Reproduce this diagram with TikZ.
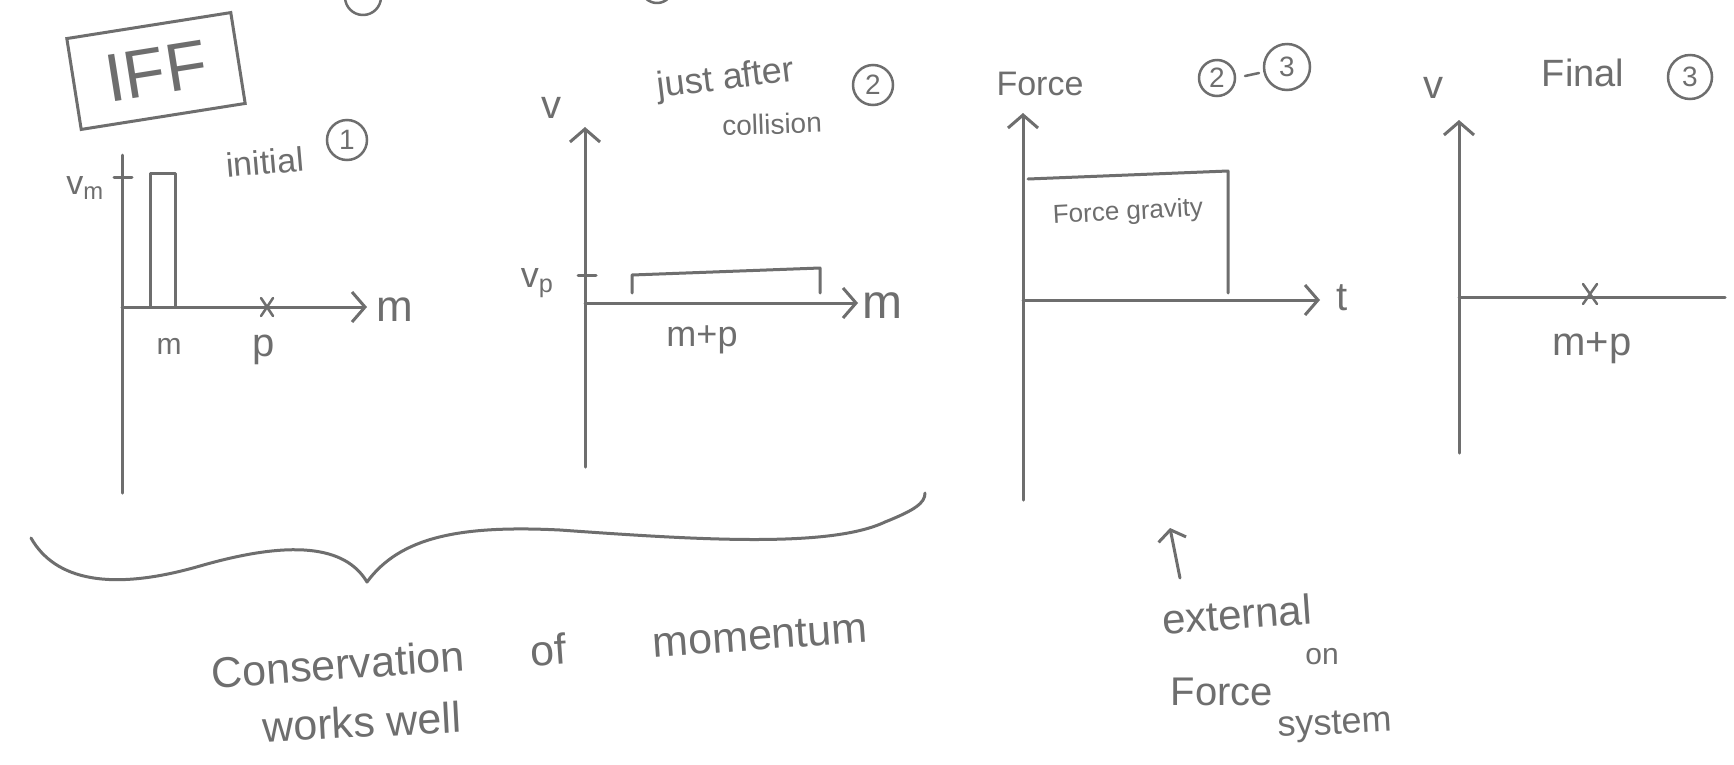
\documentclass[tikz,border=0pt]{standalone}
\usepackage{fontspec}
\setmainfont{Liberation Sans}
\usetikzlibrary{arrows.meta}
\definecolor{ink}{HTML}{6E6E6E}
\begin{document}
\begin{tikzpicture}[x=1pt,y=-1pt,
  stroke/.style={draw=ink, line width=3pt, line cap=round, line join=round},
  arr/.style={stroke, -{Straight Barb[length=13pt,width=30pt]}},
  lbl/.style={text=ink, inner sep=0pt, font=\fontsize{#1}{#1}\selectfont},
  num/.style={circle, draw=ink, line width=2.5pt, text=ink, minimum size=#1, inner sep=0pt, font=\fontsize{28}{28}\selectfont},
  crossmark/.style={stroke, line width=2.5pt},
]
\useasboundingbox (0,0) rectangle (1734,764);
\fill[white] (0,0) rectangle (1734,764);
\begin{scope}
\clip (0,0) rectangle (1734,764);
\draw[stroke, line width=2.5pt] (363,-3) circle[radius=18pt];
\draw[stroke, line width=2.5pt] (657,-13) circle[radius=16pt];
\end{scope}

% IFF box
\node[draw=ink, line width=3pt, rotate=9, minimum width=166pt, minimum height=92pt, text=ink,
      font=\fontsize{68}{68}\selectfont] (iff) at (156,71) {IFF};

% ---------- graph 1: initial
\coordinate (o1) at (122,307);
\coordinate (t1) at (122,155);
\coordinate (b1) at (122,493);
\coordinate (r1) at (367,307);
\draw[stroke] (t1) -- (b1);
\draw[arr] (o1) -- (r1);
\draw[stroke] (114,177) -- (132,177);
\draw[stroke] (150,307) -- (150,173) -- (175,173) -- (175,307);
\draw[crossmark] (261,298) -- (273,316) (273,298) -- (261,316);
\node[lbl=34, anchor=east] (vm) at (104,188) {v\textsubscript{m}};
\node[lbl=44, anchor=west] (m1) at (376,310) {m};
\node[lbl=30] (m1b) at (169,346) {m};
\node[lbl=40] (p1) at (264,350) {p};
\node[lbl=34, rotate=5] (init) at (265,162) {initial};
\node[num=40pt] (c1) at (347,140) {1};

% ---------- graph 2: just after collision
\coordinate (o2) at (585,303);
\coordinate (t2) at (585,127);
\coordinate (b2) at (585,467);
\coordinate (r2) at (858,303);
\draw[stroke] (b2) -- (o2);
\draw[arr] (o2) -- (t2);
\draw[arr] (o2) -- (r2);
\draw[stroke] (578,275) -- (596,275);
\draw[stroke] (632,293) -- (632,275) -- (820,268) -- (820,293);
\node[lbl=40] (v2) at (551,108) {v};
\node[lbl=36] (vp) at (537,283) {v\textsubscript{p}};
\node[lbl=48, anchor=west] (m2) at (862,306) {m};
\node[lbl=36] (mp2) at (702,340) {m+p};
\node[lbl=36, rotate=7] (just) at (726,80) {just after};
\node[lbl=28, rotate=2] (coll) at (772,124) {collision};
\node[num=40pt] (c2) at (873,85) {2};

% ---------- graph 3: force
\coordinate (o3) at (1023,300);
\coordinate (t3) at (1023,113);
\coordinate (b3) at (1023,500);
\coordinate (r3) at (1320,300);
\draw[stroke] (b3) -- (o3);
\draw[arr] (o3) -- (t3);
\draw[arr] (o3) -- (r3);
\draw[stroke] (1028,179) -- (1228,171) -- (1228,293);
\node[lbl=34] (force) at (1040,84) {Force};
\node[lbl=40, anchor=west] (t) at (1336,298) {t};
\node[lbl=26, rotate=3] (fg) at (1128,213) {Force gravity};
\node[num=36pt] (c2b) at (1217,78) {2};
\node[num=46pt] (c3a) at (1287,67) {3};
\draw[stroke, line width=2.5pt] (1245,76) -- (1259,73);

% ---------- graph 4: final
\coordinate (o4) at (1459,297);
\coordinate (t4) at (1459,120);
\coordinate (b4) at (1459,453);
\coordinate (r4) at (1725,297);
\draw[stroke] (b4) -- (o4);
\draw[arr] (o4) -- (t4);
\draw[stroke] (o4) -- (r4);
\draw[crossmark] (1583,284) -- (1597,304) (1597,284) -- (1583,304);
\node[lbl=40] (v4) at (1433,88) {v};
\node[lbl=38] (final) at (1583,73) {Final};
\node[num=44pt] (c3b) at (1690,77) {3};
\node[lbl=40] (mp4) at (1592,348) {m+p};

% ---------- brace and notes
\draw[stroke] (31,538) .. controls (55,580) and (110,592) .. (200,566)
  .. controls (290,540) and (345,545) .. (367,582)
  .. controls (400,537) and (460,525) .. (560,530)
  .. controls (700,540) and (830,548) .. (885,522)
  .. controls (915,510) and (925,503) .. (925,493);
\node[lbl=43, rotate=4] (cons) at (338,664) {Conservation};
\node[lbl=43, rotate=4] (of) at (548,650) {of};
\node[lbl=43, rotate=4] (mom) at (760,636) {momentum};
\node[lbl=43, rotate=3] (works) at (362,722) {works well};

\coordinate (ea) at (1180,578);
\coordinate (eb) at (1170,528);
\draw[stroke, -{Straight Barb[length=10pt,width=28pt]}] (ea) -- (eb);
\node[lbl=42, rotate=4] (ext) at (1237,614) {external};
\node[lbl=40] (fo) at (1222,692) {Force};
\node[lbl=30] (on) at (1322,657) {on};
\node[lbl=36, rotate=3] (sys) at (1335,726) {system};
\end{tikzpicture}
\end{document}
